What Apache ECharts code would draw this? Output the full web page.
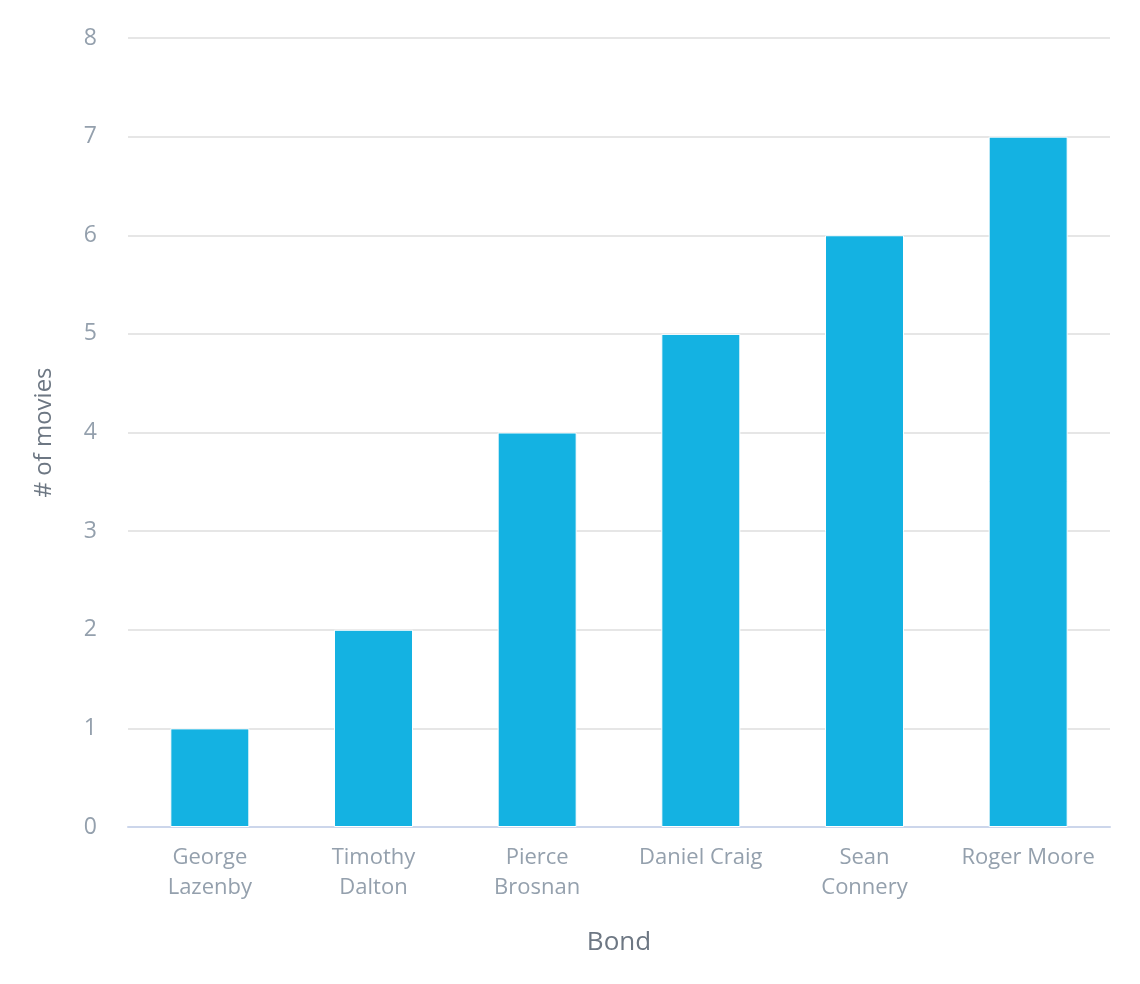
<!DOCTYPE html>
<html><head><meta charset="utf-8">
<script src="https://cdn.jsdelivr.net/npm/echarts@6/dist/echarts.min.js"></script>
<style>html,body{margin:0;padding:0;background:#fff}#c{width:1140px;height:984px}</style>
</head><body><div id="c"></div>
<script>
const categories = ["George Lazenby","Timothy Dalton","Pierce Brosnan","Daniel Craig","Sean Connery","Roger Moore"];
const categoryLabels = ["George\nLazenby","Timothy\nDalton","Pierce\nBrosnan","Daniel Craig","Sean\nConnery","Roger Moore"];
const movies = [1,2,4,5,6,7];
const yTicks = [0,1,2,3,4,5,6,7,8];

const FONT = '"Open Sans"';
const chart = echarts.init(document.getElementById('c'));
chart.setOption({
  animation:false,
  grid:{left:128,right:30,top:38,bottom:157,containLabel:false},
  xAxis:{type:'category',data:categories,
    name:'Bond',nameLocation:'middle',nameGap:103,
    nameTextStyle:{color:'#6d7783',fontSize:26,fontFamily:FONT},
    axisLine:{lineStyle:{color:'#ccd6eb',width:2}},
    axisTick:{show:false},
    axisLabel:{color:'#94a0ad',fontSize:22,fontFamily:FONT,lineHeight:30,margin:16,interval:0,hideOverlap:false,
      formatter:(v,i)=>categoryLabels[i]}},
  yAxis:{type:'value',min:yTicks[0],max:yTicks[yTicks.length-1],interval:1,
    name:'# of movies',nameLocation:'middle',nameGap:72,
    nameTextStyle:{color:'#6d7783',fontSize:24,fontFamily:FONT},
    axisLine:{show:false},axisTick:{show:false},
    axisLabel:{color:'#94a0ad',fontSize:23,fontFamily:FONT,margin:31},
    splitLine:{lineStyle:{color:'#e6e6e6',width:2}}},
  series:[{type:'bar',data:movies,barWidth:79,
    itemStyle:{color:'#14b2e2',borderColor:'#ffffff',borderWidth:1}}]
});
</script></body></html>
